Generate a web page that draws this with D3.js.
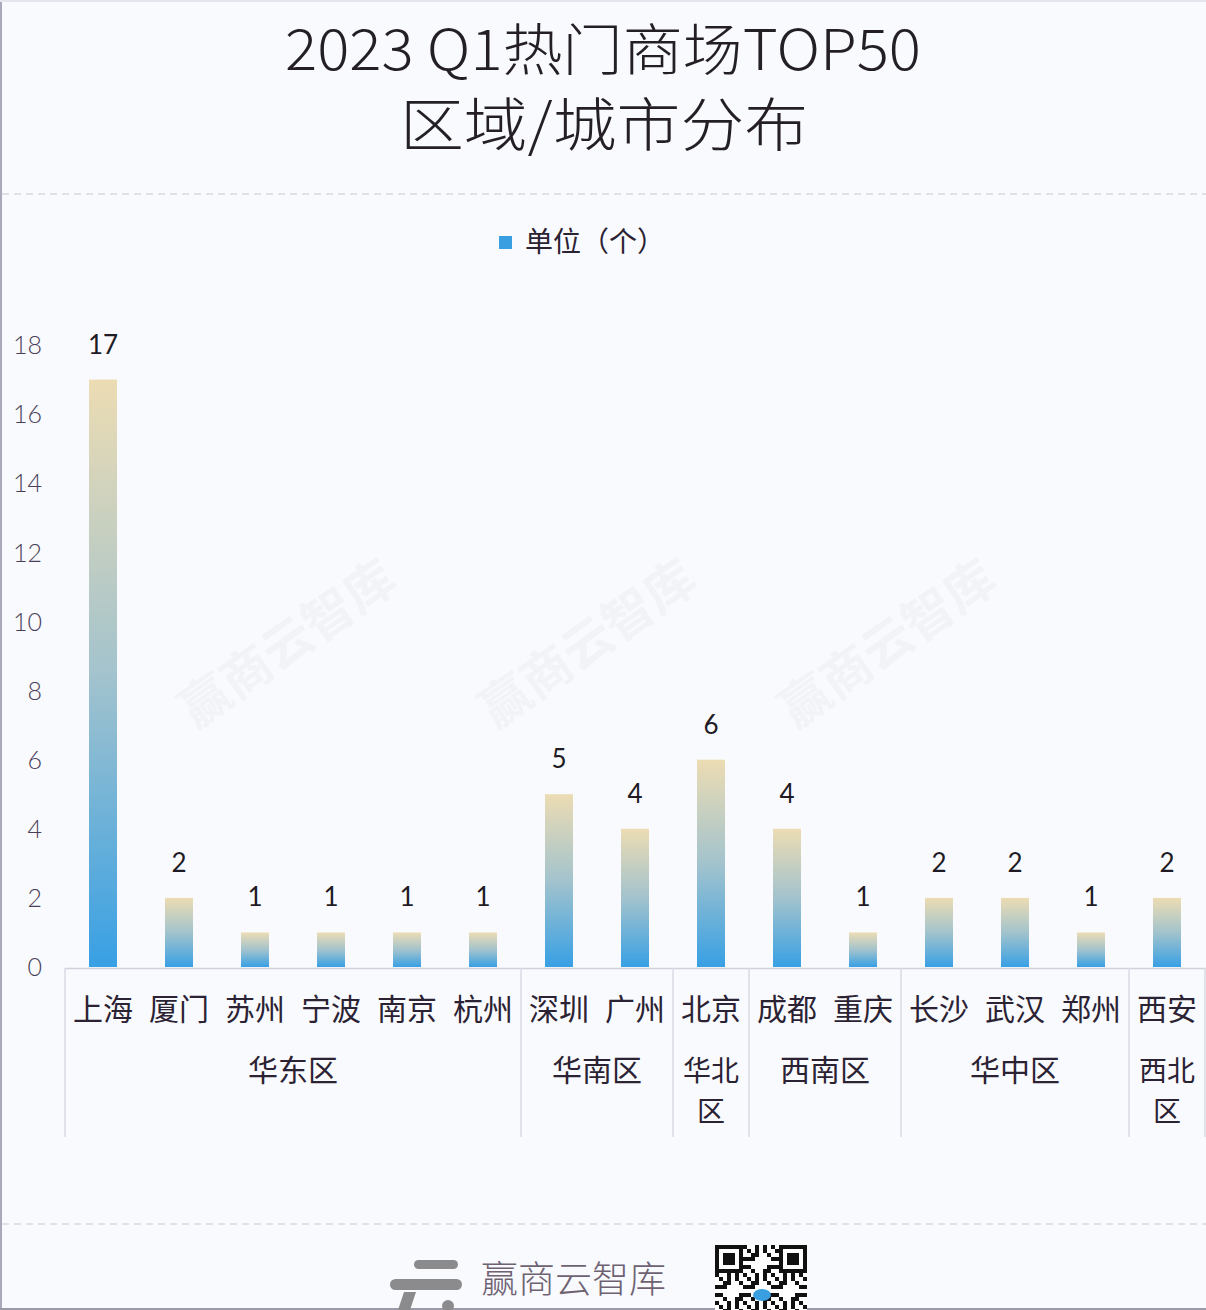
<!DOCTYPE html>
<html>
<head>
<meta charset="utf-8">
<script src="https://cdn.jsdelivr.net/npm/d3@7"></script>
<style>
  html, body { margin: 0; padding: 0; background: #f9fafd; }
  svg { display: block; }
</style>
</head>
<body>
<svg id="chart" width="1206" height="1310"></svg>
<script>
// ---- data ----
const titleLines = ["2023  Q1热门商场TOP50", "区域/城市分布"];
const legendLabel = "单位（个）";
const cities = ["上海","厦门","苏州","宁波","南京","杭州","深圳","广州","北京","成都","重庆","长沙","武汉","郑州","西安"];
const values = [17, 2, 1, 1, 1, 1, 5, 4, 6, 4, 1, 2, 2, 1, 2];
const regions = ["华东区","华南区","华北区","西南区","华中区","西北区"];
const regionCounts = [6, 2, 1, 2, 3, 1];
const yTicks = [0, 2, 4, 6, 8, 10, 12, 14, 16, 18];
const brand = "赢商云智库";

const svg = d3.select("#chart");
const W = 1206, H = 1310;
const cjk = "'Noto Sans CJK SC','Noto Sans',sans-serif";

// background + frame
svg.append("rect").attr("width", W).attr("height", H).attr("fill", "#f9fafd");
svg.append("line").attr("x1", 1).attr("x2", 1).attr("y1", 0).attr("y2", H).attr("stroke", "#a9a9bb").attr("stroke-width", 2);
svg.append("line").attr("x1", 0).attr("x2", W).attr("y1", 1).attr("y2", 1).attr("stroke", "#e4e6ee").attr("stroke-width", 2);
svg.append("line").attr("x1", 0).attr("x2", W).attr("y1", H - 1).attr("y2", H - 1).attr("stroke", "#9a9aa8").attr("stroke-width", 2);

// title
svg.append("text").attr("x", 603).attr("y", 70).attr("text-anchor", "middle")
  .attr("font-family", cjk).attr("font-size", 56).attr("font-weight", 300).attr("fill", "#231f24")
  .attr("textLength", 636).attr("lengthAdjust", "spacingAndGlyphs")
  .text(titleLines[0]);
svg.append("text").attr("x", 604).attr("y", 146).attr("text-anchor", "middle")
  .attr("font-family", cjk).attr("font-size", 58).attr("font-weight", 300).attr("fill", "#231f24")
  .attr("textLength", 408).attr("lengthAdjust", "spacingAndGlyphs")
  .text(titleLines[1]);

// dashed separators
[194, 1224].forEach(yy => {
  svg.append("line").attr("x1", 2).attr("x2", W).attr("y1", yy).attr("y2", yy)
    .attr("stroke", "#d6d9e2").attr("stroke-width", 1.5).attr("stroke-dasharray", "7,5");
});

// legend
svg.append("rect").attr("x", 499).attr("y", 236).attr("width", 13).attr("height", 13).attr("fill", "#3a9fe0");
svg.append("text").attr("x", 525).attr("y", 252).attr("font-family", cjk).attr("font-size", 28)
  .attr("fill", "#2b2233").text(legendLabel);

// watermarks
[[285, 640], [585, 640], [885, 640]].forEach(([cx, cy]) => {
  svg.append("text").attr("transform", `translate(${cx},${cy}) rotate(-35)`)
    .attr("text-anchor", "middle").attr("dominant-baseline", "central")
    .attr("font-family", cjk).attr("font-size", 50).attr("font-weight", 700)
    .attr("fill", "#f1f3f7").text(brand);
});

// scales
const x = d3.scaleBand().domain(cities).range([65, 1205]).padding(0);
const y = d3.scaleLinear().domain([0, 18]).range([967, 345]);
const barW = 28;

// gradient
const defs = svg.append("defs");
const grad = defs.append("linearGradient").attr("id", "barGrad")
  .attr("x1", 0).attr("y1", 1).attr("x2", 0).attr("y2", 0);
grad.append("stop").attr("offset", "0%").attr("stop-color", "#38a0e4");
grad.append("stop").attr("offset", "50%").attr("stop-color", "#a3c3cd");
grad.append("stop").attr("offset", "100%").attr("stop-color", "#ecdcb3");

// y axis labels
const yAxis = d3.axisLeft(y).tickValues(yTicks).tickSize(0).tickPadding(0);
const gy = svg.append("g").attr("transform", "translate(42,0)").call(yAxis);
gy.select(".domain").remove();
gy.selectAll("text").attr("font-family", "Lato, 'Open Sans', sans-serif").attr("font-weight", 300)
  .attr("font-size", 25).attr("fill", "#4a3e58").attr("dy", "0.35em");

// bars
svg.append("g").selectAll("rect").data(cities).join("rect")
  .attr("x", d => x(d) + x.bandwidth() / 2 - barW / 2)
  .attr("y", (d, i) => y(values[i]))
  .attr("width", barW)
  .attr("height", (d, i) => y(0) - y(values[i]))
  .attr("fill", "url(#barGrad)");

// value labels
svg.append("g").selectAll("text").data(cities).join("text")
  .attr("x", d => x(d) + x.bandwidth() / 2)
  .attr("y", (d, i) => y(values[i]) - 26)
  .attr("text-anchor", "middle")
  .attr("font-family", "Lato, 'Open Sans', sans-serif").attr("font-weight", 400)
  .attr("font-size", 26).attr("fill", "#1f1b24")
  .text((d, i) => values[i]);

// x axis (category)
const xAxis = d3.axisBottom(x).tickSize(0).tickPadding(0);
const gx = svg.append("g").attr("transform", `translate(0,${y(0) + 1})`).call(xAxis);
gx.select(".domain").attr("stroke", "#cfd1dc").attr("stroke-width", 1.5);
gx.selectAll("text").attr("font-family", cjk).attr("font-size", 30).attr("fill", "#2b2233")
  .attr("dy", 0).attr("y", 52);

// group dividers and region labels
let idx = 0;
const bounds = [x(cities[0])];
regions.forEach((r, gi) => {
  const start = x(cities[idx]);
  const end = x(cities[idx + regionCounts[gi] - 1]) + x.bandwidth();
  bounds.push(end);
  const cx = (start + end) / 2;
  const lines = regionCounts[gi] === 1 ? [r.slice(0, 2), r.slice(2)] : [r];
  lines.forEach((ln, li) => {
    svg.append("text").attr("x", cx).attr("y", 1081 + li * 41).attr("text-anchor", "middle")
      .attr("font-family", cjk).attr("font-size", lines.length > 1 ? 28 : 30).attr("fill", "#2b2233").text(ln);
  });
  idx += regionCounts[gi];
});
svg.append("g").selectAll("line").data(bounds).join("line")
  .attr("x1", d => d).attr("x2", d => d).attr("y1", y(0) + 1).attr("y2", 1137)
  .attr("stroke", "#d9dbe4").attr("stroke-width", 1.5);

// footer logo
const logo = svg.append("g").attr("fill", "#8b8a8d");
logo.append("rect").attr("x", 414).attr("y", 1260).attr("width", 44).attr("height", 9).attr("rx", 4.5);
logo.append("rect").attr("x", 390).attr("y", 1279).attr("width", 72).attr("height", 11).attr("rx", 5.5);
logo.append("path").attr("d", "M404,1292 L416,1292 L410,1310 L398,1310 Z");
logo.append("circle").attr("cx", 448).attr("cy", 1306).attr("r", 6);
svg.append("text").attr("x", 481).attr("y", 1293).attr("font-family", cjk).attr("font-size", 37)
  .attr("font-weight", 300).attr("fill", "#6e6272").text(brand);

// QR-like decoration
const qr = svg.append("g").attr("transform", "translate(715,1245)");
qr.append("rect").attr("width", 92).attr("height", 65).attr("fill", "#ffffff");
const cell = 4;
for (let r = 0; r < 17; r++) {
  for (let c = 0; c < 23; c++) {
    if (((r * 31 + c * 17 + r * c) % 7) < 3) {
      qr.append("rect").attr("x", c * cell).attr("y", r * cell).attr("width", cell).attr("height", cell).attr("fill", "#111");
    }
  }
}
[[0, 0], [64, 0]].forEach(([fx, fy]) => {
  qr.append("rect").attr("x", fx).attr("y", fy).attr("width", 28).attr("height", 28).attr("fill", "#111");
  qr.append("rect").attr("x", fx + 4).attr("y", fy + 4).attr("width", 20).attr("height", 20).attr("fill", "#fff");
  qr.append("rect").attr("x", fx + 8).attr("y", fy + 8).attr("width", 12).attr("height", 12).attr("fill", "#111");
});
qr.append("ellipse").attr("cx", 47).attr("cy", 50).attr("rx", 9).attr("ry", 6).attr("fill", "#3a9fe0");
</script>
</body>
</html>
